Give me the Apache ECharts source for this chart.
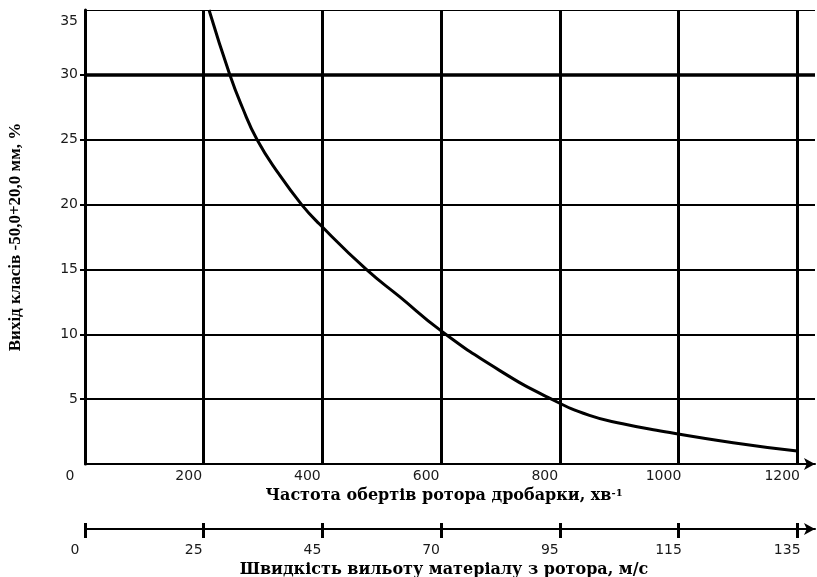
<!DOCTYPE html>
<html>
<head>
<meta charset="utf-8">
<script src="https://cdn.jsdelivr.net/npm/echarts@6/dist/echarts.min.js"></script>
<style>
html,body{margin:0;padding:0;background:#fff;}
#chart{width:817px;height:577px;}
</style>
</head>
<body>
<div id="chart"></div>
<script>
// Data
var rpmValues = [209, 244, 265, 290, 326, 365, 395, 474, 530, 599, 699, 786, 850, 906, 963, 1092, 1200];
var yieldValues = [35, 30, 27.5, 25, 22.4, 20, 18.5, 15, 12.9, 10.3, 7.2, 5, 3.75, 3.1, 2.6, 1.64, 1.0];
var rpmTicks = [0, 200, 400, 600, 800, 1000, 1200];
var speedLabels = ['0', '25', '45', '70', '95', '115', '135'];
var xTitle = 'Частота обертів ротора дробарки, хв';
var xTitleSup = '-1';
var speedTitle = 'Швидкість вильоту матеріалу з ротора, м/с';
var yTitle = 'Вихід класів -50,0+20,0 мм, %';

var points = rpmValues.map(function (r, i) { return [r, yieldValues[i]]; });

var chart = echarts.init(document.getElementById('chart'), null, {renderer: 'canvas'});
var tickFont = {fontFamily: 'DejaVu Sans', fontSize: 14, color: '#1a1a1a'};
var titleFont = {fontFamily: 'DejaVu Serif', fontWeight: 'bold', fontSize: 16, color: '#000'};

chart.setOption({
  backgroundColor: '#fff',
  animation: false,
  grid: {left: 85, right: 2, top: 10, bottom: 113, containLabel: false, outerBoundsMode: 'none'},
  xAxis: [
    {
      type: 'value', min: 0, max: 1230, interval: 200,
      position: 'bottom',
      axisLine: {show: true, symbol: ['none', 'arrow'], symbolSize: [9, 11], lineStyle: {color: '#000', width: 2}},
      axisTick: {show: false},
      axisLabel: Object.assign({margin: 5, showMaxLabel: false, padding: [0, 30, 0, 0],
        formatter: function (v) { return rpmTicks.indexOf(v) >= 0 ? String(v) : ''; }}, tickFont),
      splitLine: {show: true, showMinLine: true, showMaxLine: false, lineStyle: {color: '#000', width: 3}},
      name: xTitle + '{sup|' + xTitleSup + '}',
      nameLocation: 'middle', nameGap: 24,
      nameTextStyle: Object.assign({padding: [0, 12, 0, 0], rich: {sup: {fontFamily: 'DejaVu Serif', fontWeight: 'bold', fontSize: 10, color: '#000', verticalAlign: 'top'}}}, titleFont)
    },
    {
      type: 'value', min: 0, max: 1230, interval: 200,
      position: 'bottom', offset: 65,
      axisLine: {show: true, onZero: false, symbol: ['none', 'arrow'], symbolSize: [9, 11], lineStyle: {color: '#000', width: 2}},
      axisTick: {show: true, length: 9, customValues: rpmTicks, lineStyle: {color: '#000', width: 3}},
      axisLabel: Object.assign({margin: 14, showMaxLabel: false, padding: [0, 20, 0, 0],
        formatter: function (v) { var i = rpmTicks.indexOf(v); return i >= 0 ? speedLabels[i] : ''; }}, tickFont),
      splitLine: {show: false},
      name: speedTitle,
      nameLocation: 'middle', nameGap: 29,
      nameTextStyle: Object.assign({padding: [0, 12, 0, 0]}, titleFont)
    },
    {
      type: 'value', min: 0, max: 1230, interval: 200,
      position: 'bottom', offset: 65,
      axisLine: {show: false, onZero: false},
      axisTick: {show: true, inside: true, length: 6, customValues: rpmTicks, lineStyle: {color: '#000', width: 3}},
      axisLabel: {show: false},
      splitLine: {show: false}
    }
  ],
  yAxis: {
    type: 'value', min: 0, max: 35, interval: 5,
    axisLine: {show: true, lineStyle: {color: '#000', width: 3}},
    axisTick: {show: true, length: 5, customValues: [0, 5, 10, 15, 20, 25, 30], lineStyle: {color: '#000', width: 2}},
    axisLabel: Object.assign({margin: 7, showMinLabel: false,
      formatter: function (v) { return v === 35 ? '{low|' + v + '}' : String(v); },
      rich: {low: {fontFamily: 'DejaVu Sans', fontSize: 14, color: '#1a1a1a', padding: [22, 0, 0, 0]}}}, tickFont),
    splitLine: {show: true, showMinLine: false, showMaxLine: false, lineStyle: {color: '#000', width: 2}},
    name: yTitle,
    nameLocation: 'middle', nameGap: 61,
    nameTextStyle: {fontFamily: 'Liberation Serif', fontWeight: 'bold', fontSize: 17, color: '#000'}
  },
  series: [{
    type: 'line',
    xAxisIndex: 0,
    data: points,
    smooth: 0.5,
    showSymbol: false,
    clip: true,
    lineStyle: {color: '#000', width: 3},
    markLine: {
      silent: true, symbol: 'none', label: {show: false}, animation: false,
      data: [
        {yAxis: 30, lineStyle: {color: '#000', width: 3.5, type: 'solid'}},
        {yAxis: 35, lineStyle: {color: '#000', width: 1, type: 'solid'}}
      ]
    }
  }]
});
</script>
</body>
</html>
